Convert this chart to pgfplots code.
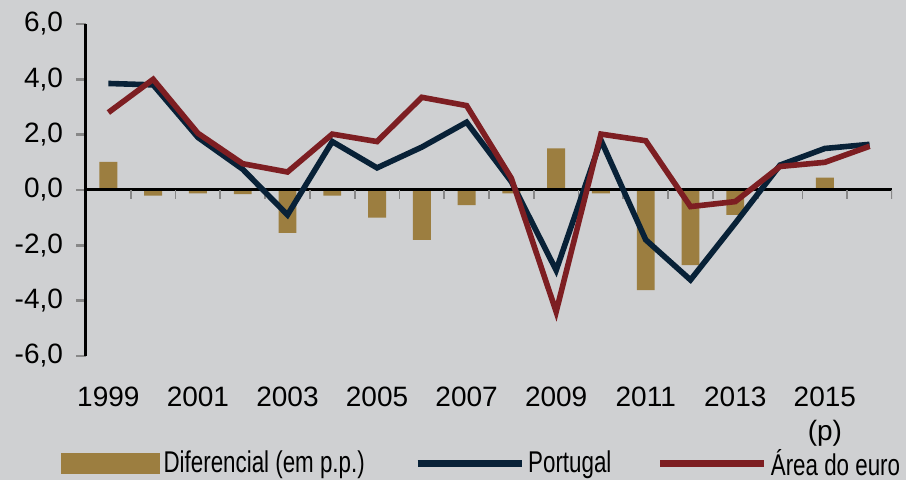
\documentclass[border=0pt]{standalone}
\usepackage{fontspec}
\setmainfont{Liberation Sans}
\newfontfamily\legfont[FakeStretch=0.745]{Liberation Sans}
\usepackage{pgfplots}
\pgfplotsset{compat=1.18}
\definecolor{bg}{RGB}{207,208,210}
\definecolor{barc}{RGB}{156,126,64}
\definecolor{navy}{RGB}{8,33,55}
\definecolor{wine}{RGB}{125,30,34}
\definecolor{tickgray}{RGB}{136,136,136}
\pgfplotstableread{
year pt ea diff
1999 3.85 2.80 1.02
2000 3.80 4.00 -0.20
2001 1.90 2.05 -0.12
2002 0.75 0.95 -0.15
2003 -0.90 0.65 -1.55
2004 1.75 2.02 -0.20
2005 0.80 1.75 -1.00
2006 1.55 3.35 -1.80
2007 2.45 3.05 -0.55
2008 0.30 0.42 -0.12
2009 -2.90 -4.40 1.50
2010 1.80 2.02 -0.12
2011 -1.80 1.78 -3.62
2012 -3.25 -0.60 -2.72
2013 -1.20 -0.42 -0.90
2014 0.90 0.85 0.00
2015 1.50 1.00 0.45
2016 1.65 1.58 0.05
}\data
\begin{document}
\begin{tikzpicture}
\fill[bg] (0,0) rectangle (453pt,240pt);
\path[use as bounding box] (0,0) rectangle (453pt,240pt);
\begin{axis}[
  at={(43pt,62pt)}, anchor=south west,
  scale only axis, width=403pt, height=166pt,
  xmin=1998.5, xmax=2016.5, ymin=-6, ymax=6,
  axis y line*=left, axis x line*=bottom,
  x axis line style={draw=none},
  y axis line style={line width=1.5pt, black, -},
  tick pos=left,
  ytick={-6,-4,...,6},
  y tick style={tickgray, line width=1.3pt},
  major tick length=5pt, tick align=outside,
  xtick={1999,2001,...,2015},
  xticklabels={1999,2001,2003,2005,2007,2009,2011,2013,{2015\\(p)}},
  x tick style={draw=none},
  xticklabel style={align=center, font=\fontsize{14}{17}\selectfont, yshift=-7pt},
  yticklabel style={font=\fontsize{14}{17}\selectfont, xshift=-3pt},
  /pgf/number format/.cd, fixed, fixed zerofill, precision=1, use comma, assume math mode=true, /pgfplots/.cd,
  legend style={at={(axis description cs:-0.031,-0.324)}, anchor=west, draw=none, fill=none,
    font=\legfont\fontsize{15}{18}\selectfont, inner sep=0pt,
    nodes={inner sep=1.6pt},
    /tikz/column 2/.style={column sep=23pt},
    /tikz/column 4/.style={column sep=21pt}},
  legend columns=3,
  legend cell align=left,
]
\addplot[ybar, bar width=0.4, bar shift=0pt, fill=barc, draw=none,
  legend image code/.code={\fill[barc] (0pt,-5.25pt) rectangle (49.5pt,5.25pt);}]
  table[x=year, y=diff] {\data};
\addlegendentry{Diferencial (em p.p.)}
\draw[black, line width=1.5pt] (axis cs:1998.5,0) -- (axis cs:2016.5,0);
\pgfplotsinvokeforeach{1999.5,2000.5,2001.5,2002.5,2003.5,2004.5,2005.5,2006.5,2007.5,2008.5,2009.5,2010.5,2011.5,2012.5,2013.5,2014.5,2015.5,2016.5}{
  \draw[tickgray, line width=0.9pt] (axis cs:#1,0) -- ++(0pt,-4.5pt);
}
\addplot[navy, line width=2.8pt, mark=none,
  legend image code/.code={\draw[navy, line width=3.5pt] (0pt,0pt) -- (52pt,0pt);}]
  table[x=year, y=pt] {\data};
\addlegendentry{Portugal}
\addplot[wine, line width=2.8pt, mark=none,
  legend image code/.code={\draw[wine, line width=3.5pt] (0pt,0pt) -- (52pt,0pt);}]
  table[x=year, y=ea] {\data};
\addlegendentry{Área do euro}
\end{axis}
\end{tikzpicture}
\end{document}
